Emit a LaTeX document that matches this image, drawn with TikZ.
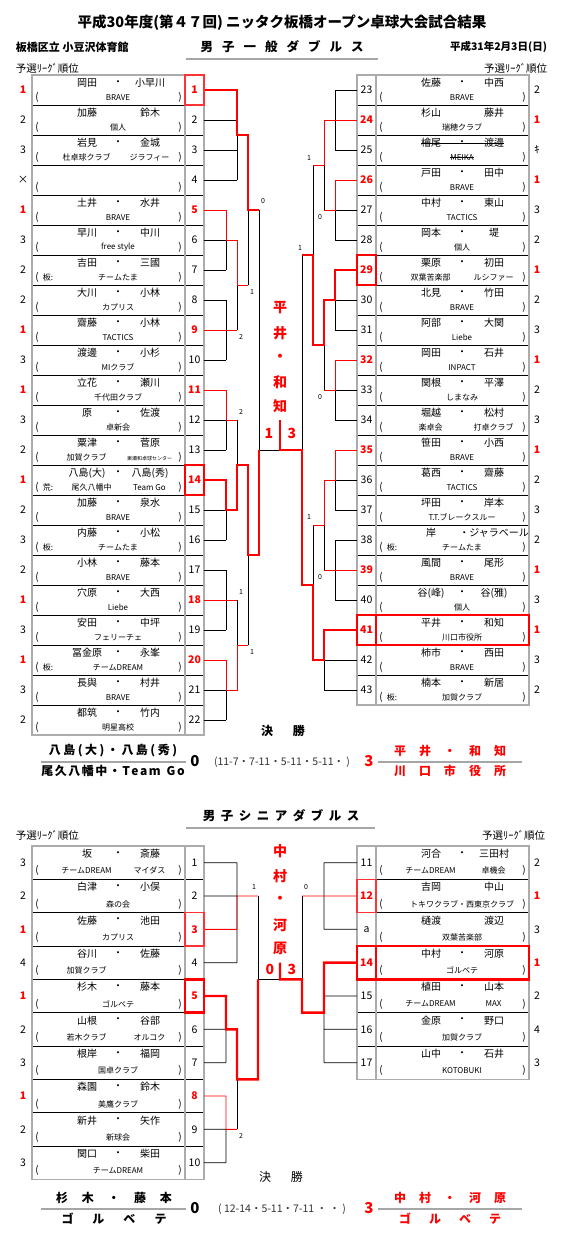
\documentclass[tikz,border=0pt]{standalone}
\usepackage{fontspec}
\setmainfont{Noto Sans CJK JP}
\newcommand{\W}[1]{\textcolor{red}{\bfseries #1}}
\newcommand{\two}[2]{\makebox[126pt]{\makebox[63pt]{#1}\makebox[63pt]{#2}}}
\def\spx#1{\ifx#1\relax\unskip\else#1\hspace{\gapw}\expandafter\spx\fi}
\newcommand{\tr}[2]{{\def\gapw{#1}\spx#2\relax}}
\newcommand{\LROW}[5]{%
  \node[rk] (rk#1) at (23,{#2+#3/2}) {#4};
  \node[numbox,minimum height=#3pt] (#1) at (194.5,{#2+#3/2}) {#5};
  \node[namebox,minimum height=#3pt] (nb#1) at (108.5,{#2+#3/2}) {};}
\newcommand{\RROW}[5]{%
  \node[rk] (rk#1) at (537,{#2+#3/2}) {#4};
  \node[numbox,minimum height=#3pt] (#1) at (366.5,{#2+#3/2}) {#5};
  \node[namebox,minimum height=#3pt] (nb#1) at (452.5,{#2+#3/2}) {};}
\newcommand{\TXT}[9]{%
  \node[nm] (na#1) at ({#2+55},{#3+7.8}) {#5};
  \node[nm] (nd#1) at ({#2+86},{#3+7.8}) {#6};
  \node[nm] (nc#1) at ({#2+118},{#3+7.8}) {#7};
  \node[par] (po#1) at ({#2+5},{#3+0.74*#4}) {(};
  \node[par] (pc#1) at ({#2+148},{#3+0.74*#4}) {)};
  \node[cl] (pf#1) at ({#2+16},{#3+0.74*#4}) {#8};
  \node[cl] (cb#1) at ({#2+86},{#3+0.74*#4}) {#9};}
\begin{document}
\begin{tikzpicture}[x=1pt,y=-1pt,
  every node/.style={inner sep=0pt,outer sep=0pt},
  nm/.style={font=\fontsize{10}{11}\selectfont},
  cl/.style={font=\fontsize{8}{9}\selectfont},
  par/.style={font=\fontsize{10}{11}\selectfont},
  rk/.style={font=\fontsize{10.5}{11}\selectfont},
  hdr/.style={font=\fontsize{10.5}{11}\selectfont},
  numbox/.style={draw=black,line width=0.6pt,minimum width=19pt,font=\fontsize{10.5}{11}\selectfont},
  namebox/.style={draw=black,line width=0.6pt,minimum width=153pt},
  frame/.style={draw=gray!65,line width=1.3pt},
  uline/.style={draw=gray!70,line width=1.8pt},
  bk/.style={draw=black,line width=0.8pt},
  rt/.style={draw=red,line width=0.9pt},
  RT/.style={draw=red,line width=2.4pt},
  hl/.style={draw=red!80,line width=1.6pt},
  HL/.style={draw=red,line width=2.4pt},
  sc/.style={font=\fontsize{7}{8}\selectfont},
  vt/.style={font=\fontsize{14}{15}\selectfont\bfseries,text=red},
  fb/.style={font=\fontsize{12}{13}\selectfont\bfseries},
  big/.style={font=\fontsize{15}{16}\selectfont\bfseries},
  score/.style={font=\fontsize{10.5}{11}\selectfont,text=black!80}]
\useasboundingbox[fill=white] (0,0) rectangle (561,1242);
% ---------- header
\node[font=\fontsize{14.5}{16}\selectfont\bfseries] (title) at (282,23) {平成30年度(第４７回) ニッタク板橋オープン卓球大会試合結果};
\node[font=\fontsize{11}{12}\selectfont\bfseries,anchor=west] (venue) at (16,47) {板橋区立 小豆沢体育館};
\node[font=\fontsize{10.5}{12}\selectfont\bfseries,anchor=east] (date) at (547,47) {平成31年2月3日(日)};
\node[font=\fontsize{12.5}{14}\selectfont\bfseries] (sec1) at (282,47) {\tr{9pt}{男子一般ダブルス}};
\draw[uline,line width=1.3pt] (186,59) -- (378,59);
\node[hdr,anchor=west] (hdl1) at (16,68) {予選ﾘｰｸﾞ順位};
\node[hdr,anchor=east] (hdr1) at (547,68) {予選ﾘｰｸﾞ順位};
% ---------- left rows
\LROW{L1}{75}{30}{\W{1}}{\W{1}}\TXT{L1}{32}{75}{30}{岡田}{・}{小早川}{}{BRAVE}
\LROW{L2}{105}{30}{2}{2}\TXT{L2}{32}{105}{30}{加藤}{}{鈴木}{}{個人}
\LROW{L3}{135}{30}{3}{3}\TXT{L3}{32}{135}{30}{岩見}{・}{金城}{}{\two{杜卓球クラブ}{ジラフィー}}
\LROW{L4}{165}{30}{×}{4}\TXT{L4}{32}{165}{30}{}{}{}{}{}
\LROW{L5}{195}{30}{\W{1}}{\W{5}}\TXT{L5}{32}{195}{30}{土井}{・}{水井}{}{BRAVE}
\LROW{L6}{225}{30}{3}{6}\TXT{L6}{32}{225}{30}{早川}{・}{中川}{}{free style}
\LROW{L7}{255}{30}{2}{7}\TXT{L7}{32}{255}{30}{吉田}{・}{三國}{板:}{チームたま}
\LROW{L8}{285}{30}{2}{8}\TXT{L8}{32}{285}{30}{大川}{・}{小林}{}{カプリス}
\LROW{L9}{315}{30}{\W{1}}{\W{9}}\TXT{L9}{32}{315}{30}{齋藤}{・}{小林}{}{TACTICS}
\LROW{L10}{345}{30}{3}{10}\TXT{L10}{32}{345}{30}{渡邊}{・}{小杉}{}{MIクラブ}
\LROW{L11}{375}{30}{\W{1}}{\W{11}}\TXT{L11}{32}{375}{30}{立花}{・}{瀬川}{}{千代田クラブ}
\LROW{L12}{405}{30}{3}{12}\TXT{L12}{32}{405}{30}{原}{・}{佐渡}{}{卓新会}
\LROW{L13}{435}{30}{2}{13}\TXT{L13}{32}{435}{30}{粟津}{・}{菅原}{}{\two{加賀クラブ}{\fontsize{5}{6}\selectfont 東瀬和卓球センター}}
\LROW{L14}{465}{30}{\W{1}}{\W{14}}\TXT{L14}{32}{465}{30}{八島(大)}{・}{八島(秀)}{荒:}{\two{\hspace{10pt}尾久八幡中}{Team Go}}
\LROW{L15}{495}{30}{2}{15}\TXT{L15}{32}{495}{30}{加藤}{・}{泉水}{}{BRAVE}
\LROW{L16}{525}{30}{3}{16}\TXT{L16}{32}{525}{30}{内藤}{・}{小松}{板:}{チームたま}
\LROW{L17}{555}{30}{2}{17}\TXT{L17}{32}{555}{30}{小林}{・}{藤本}{}{BRAVE}
\LROW{L18}{585}{30}{\W{1}}{\W{18}}\TXT{L18}{32}{585}{30}{穴原}{・}{大西}{}{Liebe}
\LROW{L19}{615}{30}{3}{19}\TXT{L19}{32}{615}{30}{安田}{・}{中坪}{}{フェリーチェ}
\LROW{L20}{645}{30}{\W{1}}{\W{20}}\TXT{L20}{32}{645}{30}{冨金原}{・}{永峯}{板:}{チームDREAM}
\LROW{L21}{675}{30}{3}{21}\TXT{L21}{32}{675}{30}{長與}{・}{村井}{}{BRAVE}
\LROW{L22}{705}{30}{2}{22}\TXT{L22}{32}{705}{30}{都筑}{・}{竹内}{}{明星高校}
% ---------- right rows
\RROW{R23}{75}{30}{2}{23}\TXT{R23}{376}{75}{30}{佐藤}{・}{中西}{}{BRAVE}
\RROW{R24}{105}{30}{\W{1}}{\W{24}}\TXT{R24}{376}{105}{30}{杉山}{}{藤井}{}{瑞穂クラブ}
\RROW{R25}{135}{30}{ｷ}{25}\TXT{R25}{376}{135}{30}{檜尾}{・}{渡邊}{}{MEIKA}
\RROW{R26}{165}{30}{\W{1}}{\W{26}}\TXT{R26}{376}{165}{30}{戸田}{・}{田中}{}{BRAVE}
\RROW{R27}{195}{30}{3}{27}\TXT{R27}{376}{195}{30}{中村}{・}{東山}{}{TACTICS}
\RROW{R28}{225}{30}{2}{28}\TXT{R28}{376}{225}{30}{岡本}{・}{堤}{}{個人}
\RROW{R29}{255}{30}{\W{1}}{\W{29}}\TXT{R29}{376}{255}{30}{栗原}{・}{初田}{}{\two{双葉苦楽部}{ルシファー}}
\RROW{R30}{285}{30}{2}{30}\TXT{R30}{376}{285}{30}{北見}{・}{竹田}{}{BRAVE}
\RROW{R31}{315}{30}{3}{31}\TXT{R31}{376}{315}{30}{阿部}{・}{大関}{}{Liebe}
\RROW{R32}{345}{30}{\W{1}}{\W{32}}\TXT{R32}{376}{345}{30}{岡田}{・}{石井}{}{INPACT}
\RROW{R33}{375}{30}{2}{33}\TXT{R33}{376}{375}{30}{関根}{・}{平澤}{}{しまなみ}
\RROW{R34}{405}{30}{3}{34}\TXT{R34}{376}{405}{30}{堀越}{・}{松村}{}{\two{楽卓会}{打卓クラブ}}
\RROW{R35}{435}{30}{\W{1}}{\W{35}}\TXT{R35}{376}{435}{30}{笹田}{・}{小西}{}{BRAVE}
\RROW{R36}{465}{30}{2}{36}\TXT{R36}{376}{465}{30}{葛西}{・}{齋藤}{}{TACTICS}
\RROW{R37}{495}{30}{3}{37}\TXT{R37}{376}{495}{30}{坪田}{・}{岸本}{}{T.T.ブレークスルー}
\RROW{R38}{525}{30}{2}{38}\TXT{R38}{376}{525}{30}{岸}{}{・ジャラベール}{板:}{チームたま}
\RROW{R39}{555}{30}{\W{1}}{\W{39}}\TXT{R39}{376}{555}{30}{風間}{・}{尾形}{}{BRAVE}
\RROW{R40}{585}{30}{3}{40}\TXT{R40}{376}{585}{30}{谷(峰)}{・}{谷(雅)}{}{個人}
\RROW{R41}{615}{30}{\W{1}}{\W{41}}\TXT{R41}{376}{615}{30}{平井}{・}{和知}{}{川口市役所}
\RROW{R42}{645}{30}{3}{42}\TXT{R42}{376}{645}{30}{柿市}{・}{西田}{}{BRAVE}
\RROW{R43}{675}{30}{2}{43}\TXT{R43}{376}{675}{30}{楠本}{・}{新居}{板:}{加賀クラブ}
\draw[line width=0.5pt] (naR25.west) -- (ncR25.east);
\draw[line width=0.5pt] (cbR25.west) -- (cbR25.east);
% frames
\draw[frame] (32,75) rectangle (204,735) (185,75) -- (185,735);
\draw[frame] (357,75) rectangle (529,705) (376,75) -- (376,705);
% ---------- top bracket lines
\draw[bk] (L2.east) -- (237,120) (L3.east) -- (237,150) (L4.east) -- (237,180) (237,120) -- (237,180);
\draw[bk] (L6.east) -- (226,240) (L7.east) -- (226,270) (226,240) -- (226,270);
\draw[bk] (L8.east) -- (226,300) (L10.east) -- (226,360) (226,300) -- (226,360);
\draw[bk] (237,285) -- (237,330) (248,210) -- (248,285) (259,210) -- (259,450) -- (280,450);
\draw[bk] (L12.east) -- (226,420) (L13.east) -- (226,450) (226,420) -- (226,450) (237,420) -- (237,465);
\draw[bk] (L15.east) -- (226,510) (L16.east) -- (226,540) (226,510) -- (226,540) (248,555) -- (248,645);
\draw[bk] (L17.east) -- (226,570) (L19.east) -- (226,630) (226,570) -- (226,630) (237,600) -- (237,645);
\draw[bk] (L21.east) -- (226,690) (L22.east) -- (226,720) (226,690) -- (226,720);
\draw[rt] (L5.east) -- (226,210) -- (226,240) -- (237,240) -- (237,285) -- (248,285);
\draw[rt] (L9.east) -- (237,330);
\draw[rt] (L11.east) -- (226,390) -- (226,420) -- (237,420);
\draw[rt] (L18.east) -- (237,600);
\draw[rt] (L20.east) -- (226,660) -- (226,690) -- (237,690) -- (237,645) -- (248,645);
\draw[RT] (L1.east) -- (237,90) -- (237,135) -- (248,135) -- (248,210) -- (259,210);
\draw[RT] (L14.east) -- (226,480) -- (226,510) -- (237,510) -- (237,465) -- (248,465) -- (248,555) -- (259,555) -- (259,450);
\draw[bk] (R23.west) -- (335,90) (R25.west) -- (335,150) (335,90) -- (335,150) (324,165) -- (324,210);
\draw[bk] (R27.west) -- (335,210) (R28.west) -- (335,240) (335,210) -- (335,240) (313,165) -- (313,255);
\draw[bk] (R30.west) -- (335,300) (R31.west) -- (335,330) (335,300) -- (335,330) (324,345) -- (324,390);
\draw[bk] (R33.west) -- (335,390) (R34.west) -- (335,420) (335,390) -- (335,420) (302,255) -- (302,450);
\draw[bk] (R36.west) -- (335,480) (R37.west) -- (335,510) (335,480) -- (335,510) (324,525) -- (324,570);
\draw[bk] (R38.west) -- (335,540) (R40.west) -- (335,600) (335,540) -- (335,600) (313,525) -- (313,585);
\draw[bk] (R42.west) -- (324,660) (R43.west) -- (324,690) (324,660) -- (324,690);
\draw[rt] (R24.west) -- (324,120) -- (324,165) -- (313,165);
\draw[rt] (R26.west) -- (335,180) -- (335,210) -- (324,210);
\draw[rt] (R32.west) -- (335,360) -- (335,390) -- (324,390);
\draw[rt] (R35.west) -- (335,450) -- (335,480) -- (324,480) -- (324,525) -- (313,525);
\draw[rt] (R39.west) -- (324,570);
\draw[RT] (R29.west) -- (335,270) -- (335,300) -- (324,300) -- (324,345) -- (313,345) -- (313,255) -- (302,255);
\draw[RT] (R41.west) -- (324,630) -- (324,660) -- (313,660) -- (313,585) -- (302,585) -- (302,450) -- (280,450) -- (280,420);
% highlights
\draw[hl] (L1.north west) rectangle (L1.south east);
\draw[HL] (L14.north west) rectangle (L14.south east);
\draw[HL,line width=2pt] (R29.north west) rectangle (R29.south east);
\draw[HL] (R41.north west) rectangle (nbR41.south east) (R41.north east) -- (R41.south east);
% scores
\node[sc] (t1) at (263,201) {0};
\node[sc] (t2) at (252,292) {1};
\node[sc] (t3) at (241,337) {2};
\node[sc] (t4) at (241,412) {2};
\node[sc] (t5) at (241,592) {1};
\node[sc] (t6) at (252,652) {1};
\node[sc] (t7) at (309,158) {1};
\node[sc] (t8) at (320,217) {0};
\node[sc] (t9) at (300,248) {1};
\node[sc] (t10) at (320,397) {0};
\node[sc] (t11) at (309,517) {1};
\node[sc] (t12) at (320,577) {0};
\node[vt] (w1) at (280,308) {平};
\node[vt] (w2) at (280,333) {井};
\node[vt] (w3) at (280,358) {・};
\node[vt] (w4) at (280,382) {和};
\node[vt] (w5) at (280,406) {知};
\node[vt] (g1) at (269,433) {1};
\node[vt] (g2) at (292,433) {3};
% ---------- top final
\node[fb] (ket1) at (283,731) {決\hspace{20pt}勝};
\node[fb] (fl1) at (113,751) {\tr{2.5pt}{八島(大)・八島(秀)}};
\draw[uline] (41,762) -- (186,762);
\node[fb] (fl2) at (113,771) {\tr{1.5pt}{尾久八幡中・Team}\hspace{6pt}\tr{1.5pt}{Go}};
\node[big] (f0) at (195,761) {0};
\node[score] (fs) at (282,762) {(11-7・7-11・5-11・5-11・ )};
\node[big,text=red] (f3) at (369,761) {3};
\draw[uline] (378,762) -- (522,762);
\node[fb,text=red] (fr1) at (450,751) {\tr{13pt}{平井・和知}};
\node[fb,text=red] (fr2) at (450,771) {\tr{13pt}{川口市役所}};
% ---------- senior
\node[font=\fontsize{12.5}{14}\selectfont\bfseries] (sec2) at (281,816) {\tr{5.5pt}{男子シニアダブルス}};
\draw[uline,line width=1.3pt] (186,828) -- (375,828);
\node[hdr,anchor=west] (hdl2) at (16,835) {予選ﾘｰｸﾞ順位};
\node[hdr,anchor=east] (hdr2) at (545,835) {予選ﾘｰｸﾞ順位};
\LROW{SL1}{846}{33.33}{3}{1}\TXT{SL1}{32}{846}{33.33}{坂}{・}{斎藤}{}{\two{チームDREAM}{マイダス}}
\LROW{SL2}{879.33}{33.33}{2}{2}\TXT{SL2}{32}{879.33}{33.33}{白津}{・}{小俣}{}{森の会}
\LROW{SL3}{912.67}{33.33}{\W{1}}{\W{3}}\TXT{SL3}{32}{912.67}{33.33}{佐藤}{・}{池田}{}{カプリス}
\LROW{SL4}{946}{33.33}{4}{4}\TXT{SL4}{32}{946}{33.33}{谷川}{・}{佐藤}{}{\two{加賀クラブ}{}}
\LROW{SL5}{979.33}{33.33}{\W{1}}{\W{5}}\TXT{SL5}{32}{979.33}{33.33}{杉木}{・}{藤本}{}{ゴルベテ}
\LROW{SL6}{1012.67}{33.33}{2}{6}\TXT{SL6}{32}{1012.67}{33.33}{山根}{・}{谷部}{}{\two{若木クラブ}{オルコク}}
\LROW{SL7}{1046}{33.33}{3}{7}\TXT{SL7}{32}{1046}{33.33}{根岸}{・}{福岡}{}{国卓クラブ}
\LROW{SL8}{1079.33}{33.33}{\W{1}}{\W{8}}\TXT{SL8}{32}{1079.33}{33.33}{森園}{・}{鈴木}{}{美鷹クラブ}
\LROW{SL9}{1112.67}{33.33}{2}{9}\TXT{SL9}{32}{1112.67}{33.33}{新井}{・}{矢作}{}{新球会}
\LROW{SL10}{1146}{33.33}{3}{10}\TXT{SL10}{32}{1146}{33.33}{関口}{・}{柴田}{}{チームDREAM}
\RROW{SR11}{846}{33.33}{2}{11}\TXT{SR11}{376}{846}{33.33}{河合}{・}{三田村}{}{\two{チームDREAM}{卓機会}}
\RROW{SR12}{879.33}{33.33}{\W{1}}{\W{12}}\TXT{SR12}{376}{879.33}{33.33}{吉岡}{}{中山}{}{トキワクラブ・西東京クラブ}
\RROW{SRa}{912.67}{33.33}{3}{a}\TXT{SRa}{376}{912.67}{33.33}{樋渡}{}{渡辺}{}{双葉苦楽部}
\RROW{SR14}{946}{33.33}{\W{1}}{\W{14}}\TXT{SR14}{376}{946}{33.33}{中村}{・}{河原}{}{ゴルベテ}
\RROW{SR15}{979.33}{33.33}{2}{15}\TXT{SR15}{376}{979.33}{33.33}{植田}{・}{山本}{}{\two{チームDREAM}{MAX}}
\RROW{SR16}{1012.67}{33.33}{4}{16}\TXT{SR16}{376}{1012.67}{33.33}{金原}{・}{野口}{}{加賀クラブ}
\RROW{SR17}{1046}{33.33}{3}{17}\TXT{SR17}{376}{1046}{33.33}{山中}{・}{石井}{}{KOTOBUKI}
\draw[frame] (32,846) rectangle (204,1179.33) (185,846) -- (185,1179.33);
\draw[frame] (357,846) rectangle (529,1079.33) (376,846) -- (376,1079.33);
\draw[bk] (SL1.east) -- (237,862.67) (SL2.east) -- (237,896) (SL4.east) -- (237,962.67) (237,862.67) -- (237,962.67);
\draw[bk] (258,896) -- (258,979.33) -- (280,979.33);
\draw[bk] (SL6.east) -- (226,1029.33) (SL7.east) -- (226,1062.67) (226,1029.33) -- (226,1062.67);
\draw[bk] (237,1079.33) -- (237,1129.33);
\draw[bk] (SL9.east) -- (226,1129.33) (SL10.east) -- (226,1162.67) (226,1129.33) -- (226,1162.67);
\draw[rt] (SL3.east) -- (237,929.33) -- (237,896) -- (258,896);
\draw[rt] (SL8.east) -- (226,1096) -- (226,1129.33) -- (237,1129.33);
\draw[RT] (SL5.east) -- (226,996) -- (226,1029.33) -- (237,1029.33) -- (237,1079.33) -- (258,1079.33) -- (258,979.33);
\draw[bk] (SR11.west) -- (324,862.67) (SRa.west) -- (324,929.33) (324,862.67) -- (324,929.33);
\draw[bk] (302,896) -- (302,979.33);
\draw[bk] (SR15.west) -- (324,996) (SR16.west) -- (324,1029.33) (SR17.west) -- (324,1062.67) (324,1012.67) -- (324,1062.67);
\draw[rt] (SR12.west) -- (302,896);
\draw[RT] (SR14.west) -- (324,962.67) -- (324,1012.67) -- (302,1012.67) -- (302,979.33) -- (280,979.33) -- (280,962.67);
\draw[hl] (SL3.north west) rectangle (SL3.south east);
\draw[HL] (SL5.north west) rectangle (SL5.south east);
\draw[hl] (SR12.north west) rectangle (SR12.south east);
\draw[HL] (SR14.north west) rectangle (nbSR14.south east) (SR14.north east) -- (SR14.south east);
\node[sc] (u1) at (254,887) {1};
\node[sc] (u2) at (241,1136) {2};
\node[sc] (u3) at (306,887) {0};
\node[vt] (v1) at (280,851) {中};
\node[vt] (v2) at (280,876) {村};
\node[vt] (v3) at (280,900) {・};
\node[vt] (v4) at (280,925) {河};
\node[vt] (v5) at (280,948) {原};
\node[vt] (h1) at (270,969) {0};
\node[vt] (h2) at (292,969) {3};
% ---------- senior final
\node[font=\fontsize{12}{13}\selectfont] (ket2) at (281,1177) {決\hspace{20pt}勝};
\node[fb] (fl3) at (114,1198) {\tr{14pt}{杉木・藤本}};
\draw[uline] (41,1209) -- (186,1209);
\node[fb] (fl4) at (114,1219) {\tr{19pt}{ゴルベテ}};
\node[big] (g0) at (195,1208) {0};
\node[score] (gs) at (282,1209) {( 12-14・5-11・7-11 ・ ・ )};
\node[big,text=red] (g3) at (369,1208) {3};
\draw[uline] (378,1209) -- (522,1209);
\node[fb,text=red] (fr3) at (450,1198) {\tr{13pt}{中村・河原}};
\node[fb,text=red] (fr4) at (450,1219) {\tr{18pt}{ゴルベテ}};
\end{tikzpicture}
\end{document}
